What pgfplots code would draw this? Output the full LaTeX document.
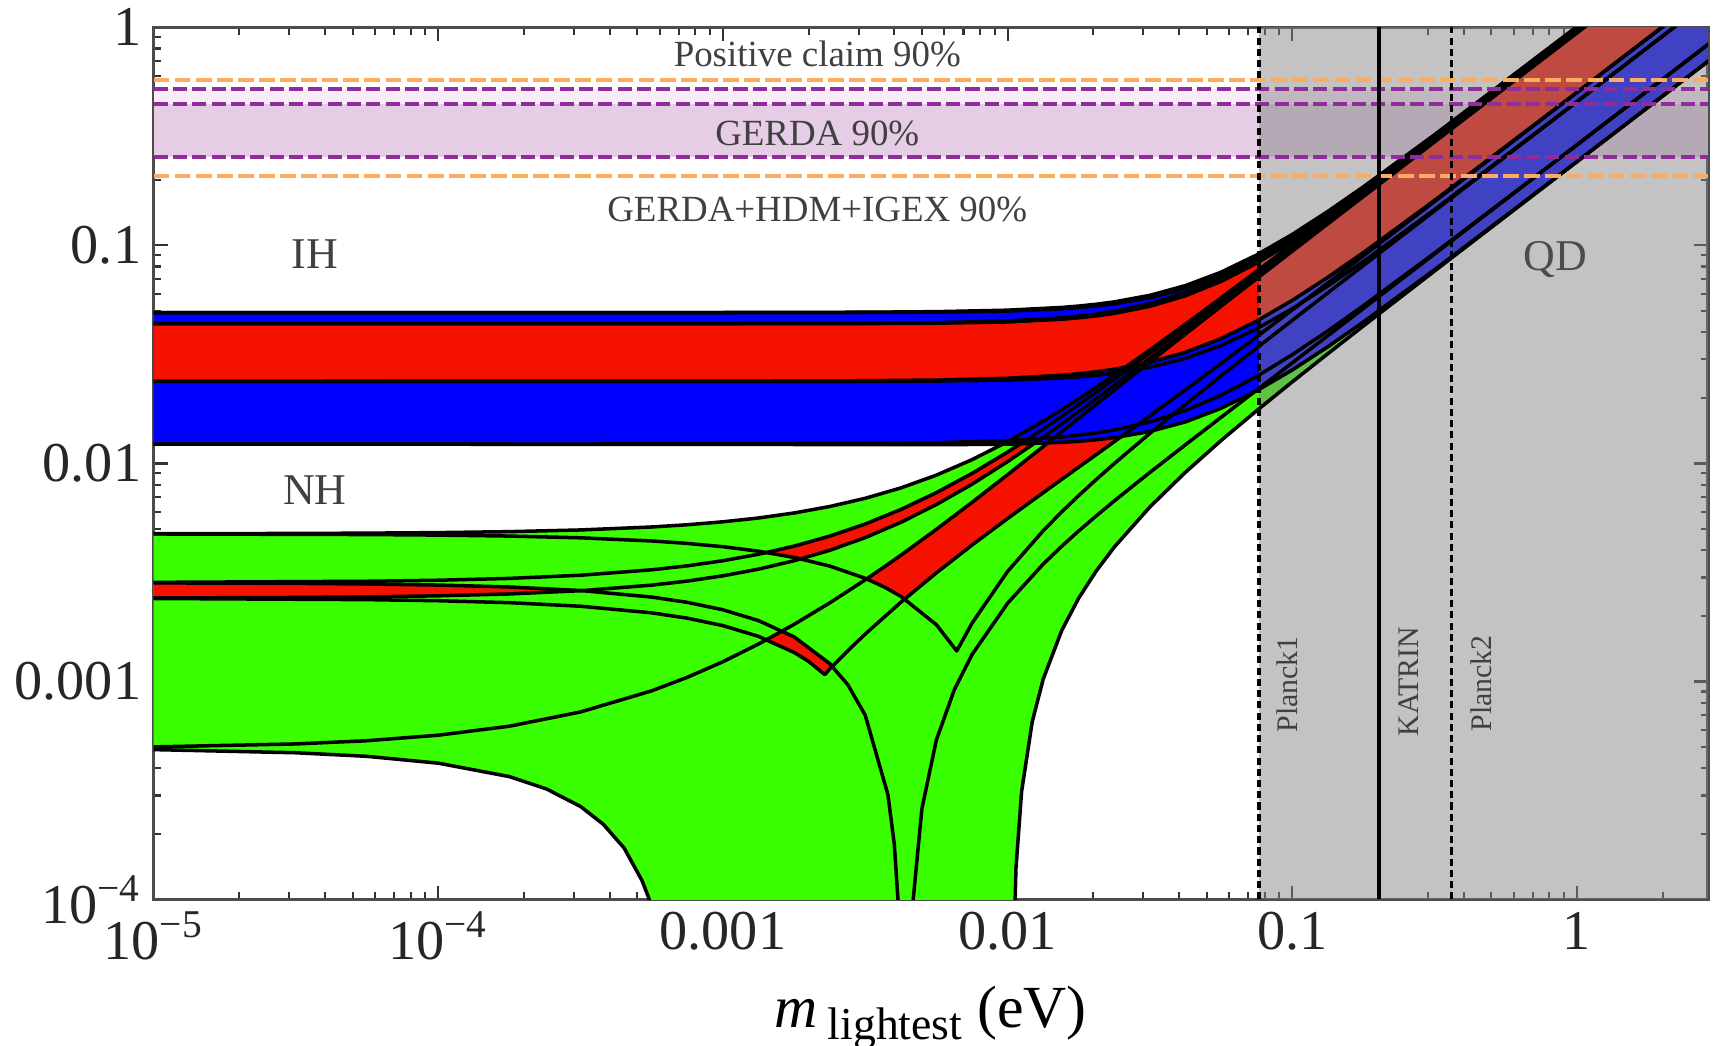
\documentclass[border=0pt]{standalone}
\usepackage{fontspec}
\setmainfont{Liberation Serif}
\usepackage{pgfplots}
\pgfplotsset{compat=1.18}
\definecolor{nhgreen}{RGB}{58,255,0}
\definecolor{cpred}{RGB}{245,18,0}
\definecolor{ihblue}{RGB}{0,0,255}
\definecolor{gerdafill}{RGB}{230,205,230}
\definecolor{gerdalight}{RGB}{247,236,247}
\definecolor{claimorange}{RGB}{253,172,95}
\definecolor{gerdapurple}{RGB}{145,45,155}
\definecolor{qdgrey}{RGB}{133,133,133}
\begin{document}
\begin{tikzpicture}
\useasboundingbox (-1.536cm,-1.465cm) rectangle (15.664cm,8.995cm);
\begin{axis}[
  at={(0,0)}, anchor=south west, scale only axis,
  width=15.544cm, height=8.721cm,
  xmode=log, ymode=log,
  xmin=1e-5, xmax=2.887, ymin=1e-4, ymax=1,
  xtick={1e-5,1e-4,1e-3,1e-2,1e-1,1},
  xticklabels={10\textsuperscript{−5},10\textsuperscript{−4},0.001,0.01,0.1,1},
  ytick={1e-4,1e-3,1e-2,1e-1,1},
  yticklabels={10\textsuperscript{−4},0.001,0.01,0.1,1},
  minor xtick={2e-5,3e-5,4e-5,5e-5,6e-5,7e-5,8e-5,9e-5,2e-4,3e-4,4e-4,5e-4,6e-4,7e-4,8e-4,9e-4,2e-3,3e-3,4e-3,5e-3,6e-3,7e-3,8e-3,9e-3,0.02,0.03,0.04,0.05,0.06,0.07,0.08,0.09,0.2,0.3,0.4,0.5,0.6,0.7,0.8,0.9,2},
  minor ytick={2e-4,3e-4,4e-4,5e-4,6e-4,7e-4,8e-4,9e-4,2e-3,3e-3,4e-3,5e-3,6e-3,7e-3,8e-3,9e-3,0.02,0.03,0.04,0.05,0.06,0.07,0.08,0.09,0.2,0.3,0.4,0.5,0.6,0.7,0.8,0.9},
  tick label style={font=\fontsize{16}{18}\selectfont, text=black!85},
  major tick length=0.14cm, minor tick length=0.075cm,
  tick style={black!80, line width=0.6pt},
  axis line style={black!70, line width=1pt},
  xlabel={\textit{m}\,\raisebox{-0.45ex}{\fontsize{13}{14}\selectfont lightest}\ (eV)},
  xlabel style={at={(axis description cs:0.5,-0.1359)}, anchor=center, font=\fontsize{17}{20}\selectfont},
  nhline/.style={black, line width=1pt, line join=round},
]
% GERDA bands (fills)
\addplot[fill=gerdalight, draw=none] coordinates {(1e-5,0.4451) (2.887,0.4451) (2.887,0.520) (1e-5,0.520)} -- cycle;
\addplot[fill=gerdafill, draw=none] coordinates {(1e-5,0.2551) (2.887,0.2551) (2.887,0.4451) (1e-5,0.4451)} -- cycle;
% NH region (green)
\addplot[fill=nhgreen, draw=none] coordinates {
(1e-5,0.004761) (3.162e-5,0.0047745) (5.623e-5,0.0047899) (1e-4,0.004817) (1.778e-4,0.0048664) (3.162e-4,0.004954) (5.623e-4,0.005112) (7.499e-4,0.0052339) (1e-3,0.005399) (1.334e-3,0.0056223) (1.778e-3,0.005927) (2.371e-3,0.006344) (3.162e-3,0.00692) (4.217e-3,0.007721) (5.623e-3,0.008839) (7.499e-3,0.010404) (0.01,0.012588) (0.01334,0.015616) (0.0155,0.01763) (0.01778,0.019781) (0.0205,0.022368) (0.0237,0.025444) (0.03162,0.033147) (0.04217,0.043512) (0.05623,0.057442) (0.07499,0.076124) (0.1,0.10113) (0.1334,0.134604) (0.1778,0.179177) (0.3162,0.3183) (1,1.006) (2.951,2.969)
(2.951,0.7141) (1,0.242) (0.3162,0.076358) (0.1778,0.042723) (0.1334,0.03188) (0.1,0.023671) (0.07499,0.017464) (0.05623,0.012738) (0.04217,0.009116) (0.03162,0.0063191) (0.0237,0.0041336) (0.0205,0.0032158) (0.01778,0.0024128) (0.0155,0.0017144) (0.01334,0.0010256) (0.0122,6.516e-4) (0.0112,3.125e-4) (0.0107,1.388e-4) (0.0104,3.26e-5) (0.01033,1e-6) (6.89e-4,1e-6) (6.2e-4,5.13e-5) (5.5e-4,1.01e-4) (5.2e-4,1.22e-4) (4.5e-4,1.72e-4) (3.8e-4,2.214e-4) (3.162e-4,2.67e-4) (2.4e-4,3.214e-4) (1.778e-4,3.662e-4) (1e-4,4.22e-4) (5.623e-5,4.535e-4) (3.162e-5,4.71e-4) (1e-5,4.87e-4)} -- cycle;
% NH red regions
\addplot[fill=cpred, draw=none] coordinates {(1e-5,0.002833) (3.162e-5,0.0028176) (5.623e-5,0.0027998) (1e-4,0.0027682) (1.778e-4,0.0027124) (3.236e-4,0.002611) (1.778e-4,0.00252) (1e-4,0.002471) (5.623e-5,0.0024436) (3.162e-5,0.002428) (1e-5,0.002415)} -- cycle;
\addplot[fill=cpred, draw=none] coordinates {(0.001384,0.001538) (0.001592,0.001693) (0.001778,0.0016017) (0.002371,0.0012091) (0.002421,0.001181) (0.002371,0.0011398) (0.00228,0.001075) (0.001995,0.0012395) (0.001778,0.0013594)} -- cycle;
\addplot[fill=cpred, draw=none] coordinates {(0.00138,0.00386) (0.001778,0.004175) (0.002371,0.004641) (0.003162,0.005276) (0.004217,0.006148) (0.005623,0.007348) (0.007499,0.009001) (0.01,0.011273) (0.01334,0.014381) (0.0155,0.016429) (0.01778,0.018607) (0.0205,0.021216) (0.0237,0.024306) (0.03162,0.03201) (0.04217,0.042333) (0.05623,0.056159) (0.07499,0.074653) (0.1,0.099364) (0.1334,0.132407) (0.1778,0.176364) (0.3162,0.3135) (1,0.9911)
(1,0.959) (0.3162,0.30326) (0.1778,0.170497) (0.1334,0.127908) (0.1,0.095875) (0.07499,0.071889) (0.05623,0.053907) (0.04217,0.04044) (0.03162,0.030369) (0.0237,0.022847) (0.0205,0.019832) (0.01778,0.01729) (0.0155,0.015173) (0.01334,0.013188) (0.01,0.010195) (0.007499,0.008031) (0.005623,0.006478) (0.004217,0.005367) (0.003162,0.004569) (0.002371,0.003995) (0.001871,0.003673) (0.001778,0.0037072)} -- cycle;
\addplot[fill=cpred, draw=none] coordinates {(0.003195,0.002951) (0.0037,0.0033649) (0.004217,0.003794) (0.005623,0.004987) (0.007499,0.006629) (0.01,0.00888) (0.01334,0.011952) (0.0155,0.013972) (0.01778,0.016116) (0.0205,0.018679) (0.0237,0.021709) (0.03162,0.029232) (0.04217,0.039261) (0.05623,0.052624) (0.07499,0.070418) (0.1,0.09411) (0.1334,0.125711) (0.1778,0.167684) (0.3162,0.29845) (1,0.9441) (2.951,2.786)
(2.951,1.484) (1,0.5029) (0.3162,0.15913) (0.1778,0.089596) (0.1334,0.067319) (0.1,0.05059) (0.07499,0.038092) (0.05623,0.028746) (0.04217,0.021759) (0.03162,0.016526) (0.0237,0.012585) (0.0205,0.010985) (0.01778,0.0096163) (0.0155,0.008456) (0.01334,0.0073435) (0.01,0.0055898) (0.007499,0.0042225) (0.005623,0.00315) (0.00436,0.002393) (0.004217,0.0024584) (0.0037,0.0027067)} -- cycle;
% IH region (blue) and IH red
\addplot[fill=ihblue, draw=none] coordinates {(1e-5,0.049197) (1e-3,0.049237) (3.162e-3,0.049391) (5.623e-3,0.049675) (0.01,0.050463) (0.0155,0.051946) (0.01778,0.052714) (0.0205,0.053737) (0.0237,0.055088) (0.03162,0.059039) (0.04217,0.065423) (0.05623,0.075407) (0.07499,0.09045) (0.1,0.11231) (0.1334,0.143195) (0.1778,0.18574) (0.3162,0.32202) (1,1.0072) (2.951,2.972)
(2.951,0.715) (1,0.24228) (0.3162,0.077393) (0.1778,0.044561) (0.1334,0.034293) (0.1,0.026829) (0.07499,0.02154) (0.05623,0.017906) (0.04217,0.015514) (0.03162,0.014018) (0.0237,0.013131) (0.0205,0.012845) (0.01778,0.012639) (0.0155,0.012493) (0.01,0.012254) (5.623e-3,0.012186) (3.162e-3,0.012196) (1e-3,0.012236) (1e-5,0.012264)} -- cycle;
\addplot[fill=cpred, draw=none] coordinates {(1e-5,0.043799) (1e-3,0.043779) (3.162e-3,0.043809) (5.623e-3,0.043967) (0.01,0.044561) (0.0155,0.045853) (0.01778,0.046555) (0.0205,0.04751) (0.0237,0.048786) (0.03162,0.052583) (0.04217,0.058767) (0.05623,0.068432) (0.07499,0.082906) (0.1,0.10379) (0.1334,0.133108) (0.1778,0.17332) (0.3162,0.30161) (1,0.94498) (2.951,2.7887)
(2.951,1.4858) (1,0.5035) (0.3162,0.16092) (0.1778,0.092744) (0.1334,0.07144) (0.1,0.055957) (0.07499,0.044978) (0.05623,0.037396) (0.04217,0.032339) (0.03162,0.029081) (0.0237,0.027042) (0.0205,0.026337) (0.01778,0.025798) (0.0155,0.02539) (0.01,0.024584) (5.623e-3,0.024132) (3.162e-3,0.023956) (1e-3,0.023847) (1e-5,0.023811)} -- cycle;
% grey excluded region (Planck1 and beyond)
\addplot[fill=qdgrey, fill opacity=0.49, draw=none] coordinates {(0.0764,1e-4) (0.0764,1) (2.887,1) (2.887,1e-4)} -- cycle;
% NH band boundaries
\addplot[nhline] coordinates {(1e-5,0.004761) (3.162e-5,0.0047745) (5.623e-5,0.0047899) (1e-4,0.004817) (1.778e-4,0.0048664) (3.162e-4,0.004954) (5.623e-4,0.005112) (7.499e-4,0.0052339) (1e-3,0.005399) (1.334e-3,0.0056223) (1.778e-3,0.005927) (2.371e-3,0.006344) (3.162e-3,0.00692) (4.217e-3,0.007721) (5.623e-3,0.008839) (7.499e-3,0.010404) (0.01,0.012588) (0.01334,0.015616) (0.0155,0.01763) (0.01778,0.019781) (0.0205,0.022368) (0.0237,0.025444) (0.03162,0.033147) (0.04217,0.043512) (0.05623,0.057442) (0.07499,0.076124) (0.1,0.10113) (0.1334,0.134604) (0.1778,0.179177) (0.3162,0.3183) (1,1.006) (2.951,2.969)};
\addplot[nhline] coordinates {(1e-5,0.002848) (5.623e-5,0.0028812) (1e-4,0.002913) (1.778e-4,0.0029697) (3.162e-4,0.003071) (5.623e-4,0.003252) (7.499e-4,0.0033915) (1e-3,0.003579) (1.334e-3,0.0038326) (1.778e-3,0.004175) (2.371e-3,0.004641) (3.162e-3,0.005276) (4.217e-3,0.006148) (5.623e-3,0.007348) (7.499e-3,0.009001) (0.01,0.011273) (0.01334,0.014381) (0.0155,0.016429) (0.01778,0.018607) (0.0205,0.021216) (0.0237,0.024306) (0.03162,0.03201) (0.04217,0.042333) (0.05623,0.056159) (0.07499,0.074653) (0.1,0.099364) (0.1334,0.132407) (0.1778,0.176364) (0.3162,0.3135) (1,0.9911) (2.951,2.925)};
\addplot[nhline] coordinates {(1e-5,0.002415) (3.162e-5,0.002428) (5.623e-5,0.0024436) (1e-4,0.002471) (1.778e-4,0.00252) (3.162e-4,0.002608) (5.623e-4,0.002766) (7.499e-4,0.0028874) (1e-3,0.003052) (1.334e-3,0.0032752) (1.778e-3,0.003579) (2.371e-3,0.003995) (3.162e-3,0.004569) (4.217e-3,0.005367) (5.623e-3,0.006478) (7.499e-3,0.008031) (0.01,0.010195) (0.01334,0.013188) (0.0155,0.015173) (0.01778,0.01729) (0.0205,0.019832) (0.0237,0.022847) (0.03162,0.030369) (0.04217,0.04044) (0.05623,0.053907) (0.07499,0.071889) (0.1,0.095875) (0.1334,0.127908) (0.1778,0.170497) (0.3162,0.30326) (1,0.959) (2.951,2.83)};
\addplot[nhline] coordinates {(1e-5,0.000501) (3.162e-5,0.000517) (5.623e-5,0.0005349) (1e-4,0.000567) (1.778e-4,0.0006235) (3.162e-4,0.000725) (5.623e-4,0.000906) (7.499e-4,0.001045) (1e-3,0.001232) (1.334e-3,0.0014855) (1.778e-3,0.001827) (2.371e-3,0.002292) (3.162e-3,0.002925) (3.7e-3,0.0033649) (4.217e-3,0.003794) (5.623e-3,0.004987) (7.499e-3,0.006629) (0.01,0.00888) (0.01334,0.011952) (0.0155,0.013972) (0.01778,0.016116) (0.0205,0.018679) (0.0237,0.021709) (0.03162,0.029232) (0.04217,0.039261) (0.05623,0.052624) (0.07499,0.070418) (0.1,0.09411) (0.1334,0.125711) (0.1778,0.167684) (0.3162,0.29845) (1,0.9441) (2.951,2.786)};
\addplot[nhline] coordinates {(1e-5,4.87e-4) (3.162e-5,4.71e-4) (5.623e-5,4.535e-4) (1e-4,4.22e-4) (1.778e-4,3.662e-4) (2.4e-4,3.214e-4) (3.162e-4,2.67e-4) (3.8e-4,2.214e-4) (4.5e-4,1.72e-4) (5.2e-4,1.22e-4) (5.5e-4,1.01e-4) (6.2e-4,5.13e-5) (6.89e-4,1e-6)};
\addplot[nhline] coordinates {(1e-5,0.002402) (5.623e-5,0.0023734) (1e-4,0.0023463) (1.778e-4,0.0022982) (3.162e-4,0.0022133) (5.623e-4,0.0020639) (7.499e-4,0.0019515) (1e-3,0.0018038) (1.334e-3,0.0016103) (1.778e-3,0.0013594) (1.995e-3,0.0012395) (2.28e-3,0.001075) (2.371e-3,0.0011398) (2.75e-3,0.0013862) (3.162e-3,0.0016504) (4.217e-3,0.0023084) (5.623e-3,0.00315) (7.499e-3,0.0042225) (0.01,0.0055898) (0.01334,0.0073435) (0.0155,0.008456) (0.01778,0.0096163) (0.0205,0.010985) (0.0237,0.012585) (0.03162,0.016526) (0.04217,0.021759) (0.05623,0.028746) (0.07499,0.038092) (0.1,0.05059) (0.1334,0.067319) (0.1778,0.089596) (0.3162,0.15913) (1,0.5029) (2.951,1.484)};
\addplot[nhline] coordinates {(4.443e-3,1e-6) (4.661e-3,1.0e-4) (5e-3,2.608e-4) (5.623e-3,5.4e-4) (6.5e-3,9.168e-4) (7.499e-3,0.0013273) (0.01,0.0022849) (0.01334,0.0034543) (0.0155,0.0041714) (0.01778,0.0049038) (0.0205,0.0057525) (0.0237,0.0067312) (0.03162,0.0090971) (0.04217,0.012188) (0.05623,0.016273) (0.07499,0.021699) (0.1,0.028925) (0.1334,0.038576) (0.1778,0.051403) (0.3162,0.091405) (1,0.289) (2.951,0.8529)};
\addplot[nhline] coordinates {(1e-5,0.002833) (3.162e-5,0.0028176) (5.623e-5,0.0027998) (1e-4,0.0027682) (1.778e-4,0.0027124) (3.162e-4,0.0026133) (5.623e-4,0.0024383) (7.499e-4,0.0023063) (1e-3,0.0021321) (1.334e-3,0.0019023) (1.778e-3,0.0016017) (2.371e-3,0.0012091) (2.75e-3,9.637e-4) (3.162e-3,7.006e-4) (3.8e-3,3.02e-4) (4.0e-3,1.788e-4) (4.15e-3,8.72e-5) (4.293e-3,1e-6)};
\addplot[nhline] coordinates {(1e-5,0.004749) (5.623e-5,0.0047197) (1e-4,0.0046926) (1.778e-4,0.0046444) (3.162e-4,0.0045596) (5.623e-4,0.0044101) (7.499e-4,0.0042981) (1e-3,0.0041505) (1.334e-3,0.0039575) (1.778e-3,0.0037072) (2.371e-3,0.0033845) (3.162e-3,0.0029738) (3.7e-3,0.0027067) (4.217e-3,0.0024584) (5.623e-3,0.0018211) (6.63e-3,0.00138) (7.499e-3,0.0018498) (0.01,0.0031969) (0.01334,0.0049148) (0.0155,0.005999) (0.01778,0.0071253) (0.0205,0.0084479) (0.0237,0.0099875) (0.03162,0.013748) (0.04217,0.018687) (0.05623,0.025211) (0.07499,0.033857) (0.1,0.045336) (0.1334,0.060624) (0.1778,0.080916) (0.3162,0.14409) (1,0.4559) (2.951,1.3454)};
\addplot[nhline] coordinates {(0.01033,1e-6) (0.0104,3.26e-5) (0.0107,1.388e-4) (0.0112,3.125e-4) (0.0122,6.516e-4) (0.01334,0.0010256) (0.0155,0.0017144) (0.01778,0.0024128) (0.0205,0.0032158) (0.0237,0.0041336) (0.03162,0.0063191) (0.04217,0.009116) (0.05623,0.012738) (0.07499,0.017464) (0.1,0.023671) (0.1334,0.03188) (0.1778,0.042723) (0.3162,0.076358) (1,0.242) (2.951,0.7141)};
% IH band boundaries
\addplot[nhline] coordinates {(1e-5,0.049197) (1e-3,0.049237) (3.162e-3,0.049391) (5.623e-3,0.049675) (0.01,0.050463) (0.0155,0.051946) (0.01778,0.052714) (0.0205,0.053737) (0.0237,0.055088) (0.03162,0.059039) (0.04217,0.065423) (0.05623,0.075407) (0.07499,0.09045) (0.1,0.11231) (0.1334,0.143195) (0.1778,0.18574) (0.3162,0.32202) (1,1.0072) (2.951,2.972)};
\addplot[nhline] coordinates {(1e-5,0.049197) (1e-3,0.04919) (3.162e-3,0.049242) (5.623e-3,0.049411) (0.01,0.049993) (0.0155,0.051217) (0.01778,0.051878) (0.0205,0.052773) (0.0237,0.053974) (0.03162,0.057553) (0.04217,0.063441) (0.05623,0.072764) (0.07499,0.086925) (0.1,0.10761) (0.1334,0.136926) (0.1778,0.17739) (0.3162,0.30716) (1,0.96024) (2.951,2.8337)};
\addplot[nhline] coordinates {(1e-5,0.043799) (1e-3,0.043826) (3.162e-3,0.043958) (5.623e-3,0.044231) (0.01,0.045031) (0.0155,0.046581) (0.01778,0.047391) (0.0205,0.048473) (0.0237,0.0499) (0.03162,0.054069) (0.04217,0.060749) (0.05623,0.071075) (0.07499,0.086431) (0.1,0.10849) (0.1334,0.139377) (0.1778,0.18168) (0.3162,0.31648) (1,0.99198) (2.951,2.9275)};
\addplot[nhline] coordinates {(1e-5,0.043799) (1e-3,0.043779) (3.162e-3,0.043809) (5.623e-3,0.043967) (0.01,0.044561) (0.0155,0.045853) (0.01778,0.046555) (0.0205,0.04751) (0.0237,0.048786) (0.03162,0.052583) (0.04217,0.058767) (0.05623,0.068432) (0.07499,0.082906) (0.1,0.10379) (0.1334,0.133108) (0.1778,0.17332) (0.3162,0.30161) (1,0.94498) (2.951,2.7887)};
\addplot[nhline] coordinates {(1e-5,0.023811) (1e-3,0.023847) (3.162e-3,0.023956) (5.623e-3,0.024132) (0.01,0.024584) (0.0155,0.02539) (0.01778,0.025798) (0.0205,0.026337) (0.0237,0.027042) (0.03162,0.029081) (0.04217,0.032339) (0.05623,0.037396) (0.07499,0.044978) (0.1,0.055957) (0.1334,0.07144) (0.1778,0.092744) (0.3162,0.16092) (1,0.5035) (2.951,1.4858)};
\addplot[nhline] coordinates {(1e-5,0.023811) (1e-3,0.0238) (3.162e-3,0.023807) (5.623e-3,0.023868) (0.01,0.024114) (0.0155,0.024661) (0.01778,0.024962) (0.0205,0.025373) (0.0237,0.025928) (0.03162,0.027595) (0.04217,0.030357) (0.05623,0.034753) (0.07499,0.041453) (0.1,0.051257) (0.1334,0.065171) (0.1778,0.084386) (0.3162,0.14606) (1,0.4565) (2.951,1.3472)};
\addplot[nhline] coordinates {(1e-5,0.012264) (1e-3,0.012283) (3.162e-3,0.012345) (5.623e-3,0.01245) (0.01,0.012724) (0.0155,0.013221) (0.01778,0.013475) (0.0205,0.013808) (0.0237,0.014245) (0.03162,0.015504) (0.04217,0.017496) (0.05623,0.020549) (0.07499,0.025065) (0.1,0.031529) (0.1334,0.040562) (0.1778,0.052919) (0.3162,0.092256) (1,0.28928) (2.951,0.8537)};
\addplot[nhline] coordinates {(1e-5,0.012264) (1e-3,0.012236) (3.162e-3,0.012196) (5.623e-3,0.012186) (0.01,0.012254) (0.0155,0.012493) (0.01778,0.012639) (0.0205,0.012845) (0.0237,0.013131) (0.03162,0.014018) (0.04217,0.015514) (0.05623,0.017906) (0.07499,0.02154) (0.1,0.026829) (0.1334,0.034293) (0.1778,0.044561) (0.3162,0.077393) (1,0.24228) (2.951,0.715)};
% horizontal experimental lines
\addplot[claimorange, line width=1.4pt, dash pattern=on 4.5pt off 1.5pt] coordinates {(1e-5,0.5738) (2.887,0.5738)};
\addplot[claimorange, line width=1.4pt, dash pattern=on 4.5pt off 1.5pt] coordinates {(1e-5,0.2081) (2.887,0.2081)};
\addplot[gerdapurple, line width=1.2pt, dash pattern=on 4pt off 1.5pt] coordinates {(1e-5,0.520) (2.887,0.520)};
\addplot[gerdapurple, line width=1.2pt, dash pattern=on 4pt off 1.5pt] coordinates {(1e-5,0.4451) (2.887,0.4451)};
\addplot[gerdapurple, line width=1.2pt, dash pattern=on 4pt off 1.5pt] coordinates {(1e-5,0.2551) (2.887,0.2551)};
% vertical bounds
\addplot[black, line width=0.9pt, dash pattern=on 2pt off 1.2pt] coordinates {(0.0764,1e-4) (0.0764,1)};
\addplot[black, line width=1pt] coordinates {(0.2016,1e-4) (0.2016,1)};
\addplot[black, line width=0.9pt, dash pattern=on 2pt off 1.2pt] coordinates {(0.3634,1e-4) (0.3634,1)};
% labels
\node[font=\fontsize{10.5}{12}\selectfont, text=black!75] at (axis cs:0.002145,0.757) {Positive claim 90\%};
\node[font=\fontsize{10.5}{12}\selectfont, text=black!75] at (axis cs:0.002145,0.325) {GERDA 90\%};
\node[font=\fontsize{10.5}{12}\selectfont, text=black!75] at (axis cs:0.002145,0.146) {GERDA+HDM+IGEX 90\%};
\node[font=\fontsize{12.5}{14}\selectfont, text=black!75] at (axis cs:3.685e-5,0.0909) {IH};
\node[font=\fontsize{12.5}{14}\selectfont, text=black!75] at (axis cs:3.685e-5,0.007528) {NH};
\node[font=\fontsize{12.5}{14}\selectfont, text=black!70] at (axis cs:0.8412,0.0858) {QD};
\node[rotate=90, font=\fontsize{8.5}{10}\selectfont, text=black!75] at (axis cs:0.0957,9.7e-4) {Planck1};
\node[rotate=90, font=\fontsize{8.5}{10}\selectfont, text=black!75] at (axis cs:0.2562,1.0e-3) {KATRIN};
\node[rotate=90, font=\fontsize{8.5}{10}\selectfont, text=black!75] at (axis cs:0.4601,9.8e-4) {Planck2};
\end{axis}
\end{tikzpicture}
\end{document}
